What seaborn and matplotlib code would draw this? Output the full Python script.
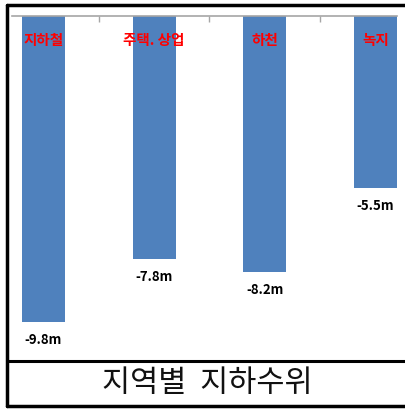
import pandas as pd
import matplotlib
matplotlib.use("Agg")
import matplotlib.pyplot as plt
from matplotlib.lines import Line2D
import seaborn as sns

# 지역별 지하수위 (m)
regions = ["지하철", "주택. 상업", "하천", "녹지"]
levels = [-9.8, -7.8, -8.2, -5.5]
value_labels = ["-9.8m", "-7.8m", "-8.2m", "-5.5m"]

df = pd.DataFrame({"region": regions, "level": levels})

sns.set_style("white")
plt.rcParams["font.family"] = ["Noto Sans CJK KR", "DejaVu Sans"]

fig = plt.figure(figsize=(4.06, 4.09), dpi=100)
W, H = 406, 409
# axes: left 12px, right 397px, top 16px, bottom 360px
ax = fig.add_axes([12 / W, 1 - 360 / H, (397 - 12) / W, (360 - 16) / H])

sns.barplot(data=df, x="region", y="level", color="#4F81BD", saturation=1,
            width=0.39, ax=ax, edgecolor="none")

ax.set_xlim(-0.285, 3.196)
ax.set_ylim(-11.03, 0)
ax.set_xlabel("")
ax.set_ylabel("")
ax.set_yticks([])

# 축선 (상단 0선) 및 구분 눈금
for side in ["left", "right", "bottom"]:
    ax.spines[side].set_visible(False)
ax.spines["top"].set_visible(True)
ax.spines["top"].set_color("#A6A6A6")
ax.spines["top"].set_linewidth(1.2)
ax.xaxis.tick_top()
ax.set_xticks([0.5, 1.5, 2.5])
ax.set_xticklabels([])
ax.tick_params(axis="x", direction="in", length=4, color="#A6A6A6", width=1)

for i, (name, val, lab) in enumerate(zip(regions, levels, value_labels)):
    ax.text(i, -0.78, name, ha="center", va="center", color="#FF0000",
            fontsize=10.5, fontweight="bold")
    ax.text(i, val - 0.58, lab, ha="center", va="center", color="black",
            fontsize=9.5, fontweight="bold")

# 외곽 프레임과 제목 칸
def fline(x0, y0, x1, y1, lw):
    fig.add_artist(Line2D([x0 / W, x1 / W], [1 - y0 / H, 1 - y1 / H],
                          color="black", linewidth=lw, transform=fig.transFigure))

fline(6.5, 4.5, 406, 4.5, 2.5)
fline(6.5, 4.5, 6.5, 406, 2.5)
fline(6.5, 361, 406, 361, 2.2)
fline(6.5, 406, 406, 406, 2.5)

fig.text(207 / W, 1 - 384 / H, "지역별  지하수위", ha="center", va="center",
         fontsize=22, fontweight="medium", color="#111111")

fig.savefig("out.png", dpi=100)
